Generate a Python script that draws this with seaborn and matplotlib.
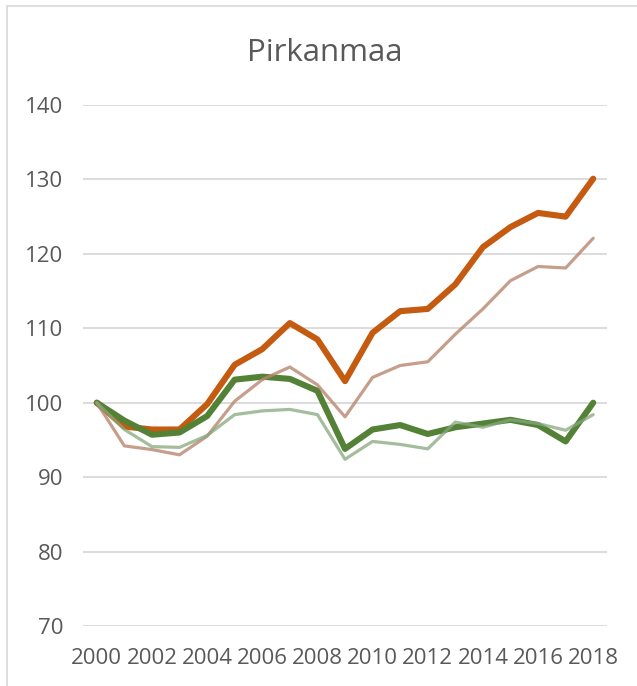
import pandas as pd
import matplotlib.pyplot as plt
import seaborn as sns
from matplotlib.patches import Rectangle

years = list(range(2000, 2019))

orange_thick = [100, 96.8, 96.4, 96.4, 99.8, 105.1, 107.2, 110.7, 108.5, 102.9,
                109.4, 112.3, 112.6, 115.9, 120.9, 123.6, 125.5, 125.0, 130.1]
brown_thin = [100, 94.2, 93.7, 93.0, 95.5, 100.2, 103.1, 104.8, 102.4, 98.1,
              103.4, 105.0, 105.5, 109.2, 112.6, 116.4, 118.3, 118.1, 122.1]
green_thick = [100, 97.6, 95.7, 96.0, 98.2, 103.1, 103.5, 103.2, 101.6, 93.8,
               96.4, 97.0, 95.8, 96.7, 97.2, 97.7, 97.0, 94.8, 100.0]
green_thin = [100, 96.4, 94.1, 94.0, 95.6, 98.4, 98.9, 99.1, 98.4, 92.4,
              94.8, 94.4, 93.8, 97.4, 96.7, 97.7, 97.2, 96.3, 98.4]

title = "Pirkanmaa"
yticks = [70, 80, 90, 100, 110, 120, 130, 140]
xticks = list(range(2000, 2019, 2))

data = pd.DataFrame({'year': years, 'orange_thick': orange_thick, 'brown_thin': brown_thin,
                     'green_thick': green_thick, 'green_thin': green_thin})

sns.set_style("white")
plt.rcParams['font.family'] = ['Open Sans', 'DejaVu Sans']

fig = plt.figure(figsize=(6.37, 6.86), dpi=100)
ax = fig.add_axes([83 / 637, 1 - 626 / 686, (607 - 83) / 637, (626 - 105) / 686])

# chart area border (only left/top visible in the crop)
fig.patches.append(Rectangle((7 / 637, -0.05), 1.2, 1 - 6 / 686 + 0.05, transform=fig.transFigure,
                             fill=False, edgecolor='#D9D9D9', linewidth=1.2))

sns.lineplot(data=data, x='year', y='orange_thick', ax=ax, color='#C55A11', linewidth=4.4,
             solid_capstyle='round', solid_joinstyle='round')
sns.lineplot(data=data, x='year', y='green_thick', ax=ax, color='#538135', linewidth=4.4,
             solid_capstyle='round', solid_joinstyle='round')
sns.lineplot(data=data, x='year', y='brown_thin', ax=ax, color='#B88670', linewidth=2.3, alpha=0.8)
sns.lineplot(data=data, x='year', y='green_thin', ax=ax, color='#86A77C', linewidth=2.3, alpha=0.75)

ax.set_xlim(1999.5, 2018.5)
ax.set_ylim(70, 140)
ax.set_yticks(yticks)
ax.set_xticks(xticks)
ax.set_xticklabels([str(x) for x in xticks])
ax.grid(axis='y', color='#D9D9D9', linewidth=1.3)
ax.set_axisbelow(True)
for s in ax.spines.values():
    s.set_visible(False)
ax.tick_params(axis='both', length=0, labelsize=16, colors='#595959')
ax.tick_params(axis='y', pad=14)
ax.tick_params(axis='x', pad=16)
ax.set_xlabel("")
ax.set_ylabel("")

fig.text(0.51, 1 - 53 / 686, title, ha='center', va='center', fontsize=22.5, color='#595959')

plt.savefig('out.png', dpi=100)
plt.close()
